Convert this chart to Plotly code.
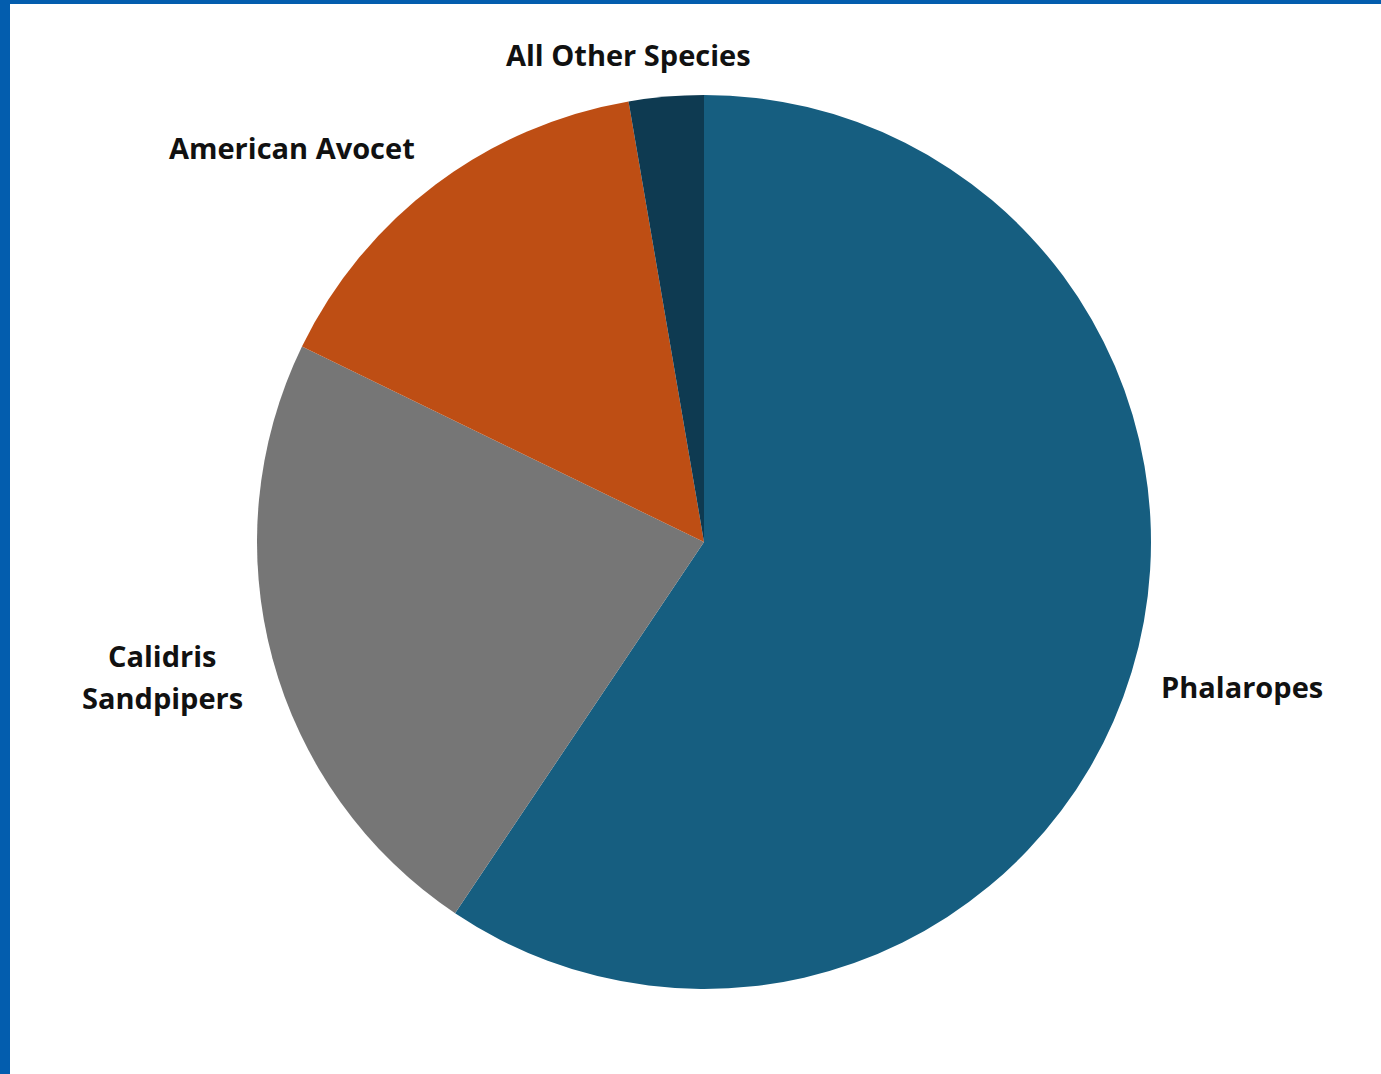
import plotly.graph_objects as go

labels = ["Phalaropes", "Calidris Sandpipers", "American Avocet", "All Other Species"]
label_lines = [["Phalaropes"], ["Calidris", "Sandpipers"], ["American Avocet"], ["All Other Species"]]
values = [59.4, 22.8, 15.1, 2.7]
colors = ["#165E80", "#767676", "#BE4E14", "#0E3A51"]

W, H = 1381, 1074
cx, cy, r = 704, 542, 447

fig = go.Figure(go.Pie(
    labels=labels,
    values=values,
    sort=False,
    direction="clockwise",
    rotation=0,
    marker=dict(colors=colors, line=dict(width=0)),
    textinfo="none",
    hoverinfo="label+percent",
    domain=dict(x=[(cx - r) / W, (cx + r) / W], y=[1 - (cy + r) / H, 1 - (cy - r) / H]),
    showlegend=False,
))

# label positions (pixel centers)
label_pos = [(1242, 686), (162, 676), (292, 147), (628, 55)]
line_gap = 42
for lines, (px, py) in zip(label_lines, label_pos):
    n = len(lines)
    for i, t in enumerate(lines):
        yy = py + (i - (n - 1) / 2) * line_gap
        fig.add_annotation(
            x=px / W, y=1 - yy / H, xref="paper", yref="paper",
            text=t, showarrow=False, xanchor="center", yanchor="middle",
            font=dict(family="Open Sans", size=29, color="#111111", weight="bold"),
            align="center",
        )

# blue frame on left and top
fig.add_shape(type="rect", xref="paper", yref="paper", x0=0, x1=10 / W, y0=0, y1=1,
              fillcolor="#035DAE", line=dict(width=0), layer="above")
fig.add_shape(type="rect", xref="paper", yref="paper", x0=0, x1=1, y0=1 - 4 / H, y1=1,
              fillcolor="#035DAE", line=dict(width=0), layer="above")

fig.update_layout(
    width=W, height=H,
    margin=dict(l=0, r=0, t=0, b=0),
    paper_bgcolor="white", plot_bgcolor="white",
)

fig.write_html("out.html")
